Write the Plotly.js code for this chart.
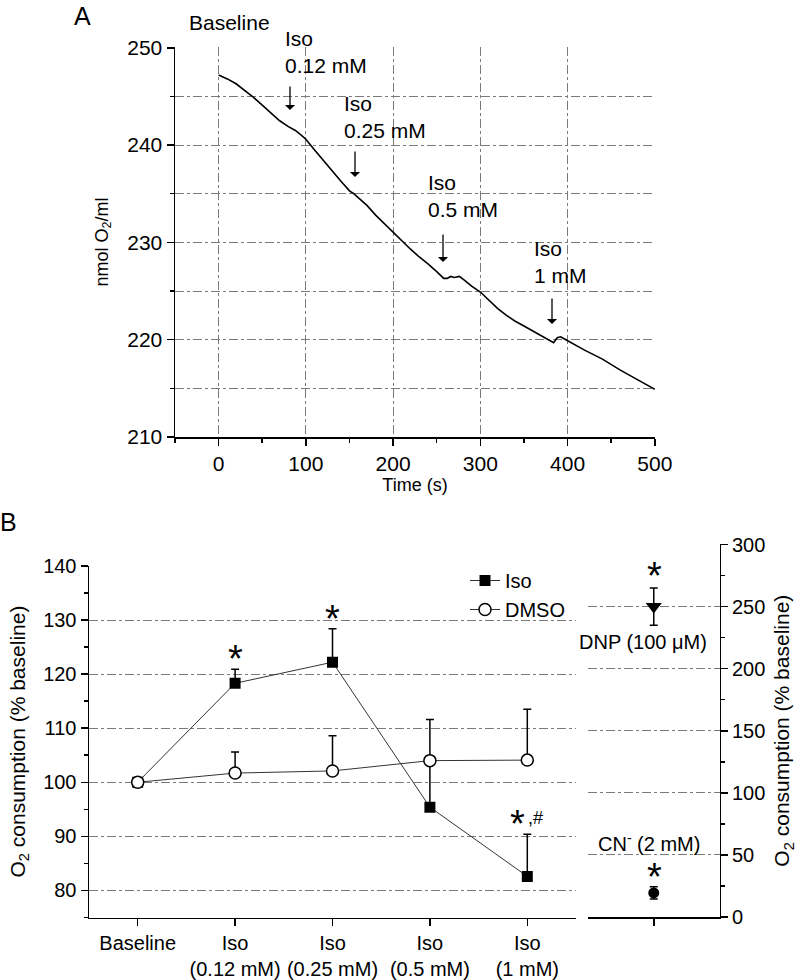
<!DOCTYPE html>
<html>
<head>
<meta charset="utf-8">
<script src="https://cdn.plot.ly/plotly-3.0.1.min.js"></script>
<style>html,body{margin:0;padding:0;background:#fff;}#chart{width:800px;height:980px;}</style>
</head>
<body>
<div id="chart"></div>
<script>
// ---------- Panel A: O2 trace ----------
const timeS = [0, 10, 20, 30, 40, 50, 60, 70, 80, 88, 95, 100, 110, 120, 130, 140, 150, 155, 160, 170, 180, 190, 200, 210, 220, 230, 240, 250, 258, 262, 266, 270, 276, 282, 290, 300, 310, 320, 330, 340, 350, 360, 370, 380, 384, 388, 392, 396, 400, 420, 440, 460, 480, 500];
const o2nmol = [247.2, 246.8, 246.3, 245.6, 244.9, 244.1, 243.3, 242.5, 241.9, 241.5, 241.0, 240.6, 239.5, 238.4, 237.3, 236.3, 235.3, 235.0, 234.6, 233.8, 232.8, 231.9, 231.0, 230.1, 229.3, 228.5, 227.8, 227.0, 226.3, 226.3, 226.5, 226.4, 226.5, 226.1, 225.5, 224.9, 224.0, 223.2, 222.5, 221.9, 221.4, 220.9, 220.4, 219.9, 219.7, 220.2, 220.3, 220.1, 219.9, 218.9, 218.0, 216.9, 215.9, 214.9];

// ---------- Panel B: O2 consumption ----------
const categories = [0, 1, 2, 3, 4];
const categoryLabels = ['Baseline', 'Iso<br>(0.12 mM)', 'Iso<br>(0.25 mM)', 'Iso<br>(0.5 mM)', 'Iso<br>(1 mM)'];
const isoMean = [100, 118.3, 122.2, 95.4, 82.6];
const isoErr = [0, 2.6, 6.2, 9.0, 7.8];
const dmsoMean = [100, 101.7, 102.1, 104.0, 104.1];
const dmsoErr = [0, 3.9, 6.5, 7.6, 9.4];
const dnpMean = [250];
const dnpErr = [15];
const cnMean = [19.4];
const cnErr = [5];

const FONT = 'Arial, "Liberation Sans", sans-serif';
const W = 800, H = 980;
const px = v => v / W;
const py = v => 1 - v / H;
const GRID = '#7a7a7a';

const traces = [
  {x: timeS, y: o2nmol, xaxis: 'x', yaxis: 'y', mode: 'lines', line: {color: '#000', width: 1.6}, showlegend: false, hoverinfo: 'skip'},
  {x: categories, y: isoMean, xaxis: 'x2', yaxis: 'y2', mode: 'lines+markers', name: 'Iso',
   line: {color: '#333', width: 1}, marker: {symbol: 'square', size: 11, color: '#000'},
   error_y: {type: 'data', symmetric: false, array: isoErr, arrayminus: [0,0,0,0,0], color: '#000', thickness: 1.5, width: 4}},
  {x: categories, y: dmsoMean, xaxis: 'x2', yaxis: 'y2', mode: 'lines+markers', name: 'DMSO',
   line: {color: '#333', width: 1}, marker: {symbol: 'circle', size: 12, color: '#fff', line: {color: '#000', width: 1.5}},
   error_y: {type: 'data', symmetric: false, array: dmsoErr, arrayminus: [0,0,0,0,0], color: '#000', thickness: 1.5, width: 4}},
  {x: [0], y: dnpMean, xaxis: 'x3', yaxis: 'y3', mode: 'markers', showlegend: false,
   marker: {symbol: 'triangle-down', size: 14, color: '#000'},
   error_y: {type: 'data', array: dnpErr, color: '#000', thickness: 1.5, width: 4}},
  {x: [0], y: cnMean, xaxis: 'x3', yaxis: 'y3', mode: 'markers', showlegend: false,
   marker: {symbol: 'circle', size: 11, color: '#000'},
   error_y: {type: 'data', array: cnErr, color: '#000', thickness: 1.5, width: 4}}
];

const tickFontA = {family: FONT, size: 21, color: '#000'};
const tickFontB = {family: FONT, size: 20, color: '#000'};
const titleFontA = {family: FONT, size: 18, color: '#000'};
const titleFontB = {family: FONT, size: 21, color: '#000'};

function ann(text, x, y, opts) {
  return Object.assign({text: text, xref: 'paper', yref: 'paper', x: px(x), y: py(y), showarrow: false,
    xanchor: 'center', yanchor: 'middle', font: {family: FONT, size: 21, color: '#000'}}, opts || {});
}
function arrow(x, yTail, yHead) {
  return {text: '', xref: 'paper', yref: 'paper', x: px(x), y: py(yHead), ax: 0, ay: -(yHead - yTail),
    showarrow: true, arrowhead: 1, arrowsize: 1.3, arrowwidth: 1.3, arrowcolor: '#000'};
}
const star = {family: FONT, size: 38, color: '#000'};

const common = {showline: true, linecolor: '#000', linewidth: 1.5, ticks: 'outside', ticklen: 7, tickwidth: 1.5, tickcolor: '#000', zeroline: false};
const grid = {showgrid: true, gridcolor: GRID, griddash: 'dashdot', gridwidth: 1};

const layout = {
  width: W, height: H,
  margin: {l: 0, r: 0, t: 0, b: 0},
  paper_bgcolor: '#fff', plot_bgcolor: 'rgba(0,0,0,0)',
  font: {family: FONT, size: 20, color: '#000'},
  showlegend: true,
  legend: {x: px(465), y: py(561), xanchor: 'left', yanchor: 'top', bgcolor: 'rgba(0,0,0,0)',
    font: {family: FONT, size: 20, color: '#000'}, tracegroupgap: 0, itemsizing: 'trace'},
  xaxis: Object.assign({}, common, grid, {domain: [px(175), px(655)], anchor: 'y', range: [-50, 500.2], dtick: 100, tick0: 0,
    minor: {dtick: 50, ticks: 'outside', ticklen: 4, tickwidth: 1.5, tickcolor: '#000', showgrid: false},
    tickfont: tickFontA, title: {text: 'Time (s)', font: titleFontA, standoff: 4}}),
  yaxis: Object.assign({}, common, grid, {domain: [py(437), py(47)], anchor: 'x', range: [210, 250.08], dtick: 10, tick0: 210,
    minor: {dtick: 5, ticks: 'outside', ticklen: 4, tickwidth: 1.5, tickcolor: '#000', showgrid: true, gridcolor: GRID, griddash: 'dashdot', gridwidth: 1},
    tickfont: tickFontA, title: {text: 'nmol O<sub>2</sub>/ml', font: titleFontA, standoff: 14}}),
  xaxis2: Object.assign({}, common, {domain: [px(89), px(576)], anchor: 'y2', range: [-0.5, 4.5], tickmode: 'array', tickvals: categories, ticktext: categoryLabels,
    showgrid: false, tickfont: tickFontB}),
  yaxis2: Object.assign({}, common, grid, {domain: [py(917.5), py(565.7)], anchor: 'x2', range: [75, 140.04], dtick: 10, tick0: 80,
    minor: {dtick: 5, tick0: 75, ticks: 'outside', ticklen: 4, tickwidth: 1.5, tickcolor: '#000', showgrid: false},
    tickfont: tickFontB, title: {text: 'O<sub>2</sub> consumption (% baseline)', font: titleFontB, standoff: 12}}),
  xaxis3: Object.assign({}, common, {domain: [px(588), px(719.5)], anchor: 'y3', range: [-0.5, 0.5], tickmode: 'array', tickvals: [0],
    showticklabels: false, showgrid: false}),
  yaxis3: Object.assign({}, common, grid, {domain: [py(917), py(544.3)], anchor: 'x3', side: 'right', range: [0, 300.2], dtick: 50, tick0: 0,
    minor: {dtick: 25, ticks: 'outside', ticklen: 4, tickwidth: 1.5, tickcolor: '#000', showgrid: false},
    tickfont: tickFontB, title: {text: 'O<sub>2</sub> consumption (% baseline)', font: titleFontB, standoff: 10}}),
  annotations: [
    ann('A', 82, 0, {yanchor: 'top', font: {family: FONT, size: 25, color: '#000'}}),
    ann('B', 8, 522, {font: {family: FONT, size: 25, color: '#000'}}),
    ann('Baseline', 229, 22),
    ann('Iso<br>0.12 mM', 283, 52, {xanchor: 'left', align: 'left'}),
    ann('Iso<br>0.25 mM', 342, 117, {xanchor: 'left', align: 'left'}),
    ann('Iso<br>0.5 mM', 426, 196, {xanchor: 'left', align: 'left'}),
    ann('Iso<br>1 mM', 532, 262, {xanchor: 'left', align: 'left'}),
    arrow(290, 85, 110),
    arrow(355, 150, 177),
    arrow(443, 233, 262),
    arrow(552, 297, 324),
    ann('*', 235, 659, {font: star}),
    ann('*', 332, 619, {font: star}),
    ann('*', 517, 824, {font: star}),
    ann(',#', 535, 818, {font: {family: FONT, size: 18, color: '#000'}}),
    ann('*', 654, 576, {font: star}),
    ann('*', 654, 877, {font: star}),
    ann('DNP (100 \u03bcM)', 643, 642, {font: {family: FONT, size: 20, color: '#000'}}),
    ann('CN<sup>-</sup> (2 mM)', 649, 842, {font: {family: FONT, size: 20, color: '#000'}})
  ]
};

Plotly.newPlot('chart', traces, layout, {staticPlot: true, displayModeBar: false});
</script>
</body>
</html>
